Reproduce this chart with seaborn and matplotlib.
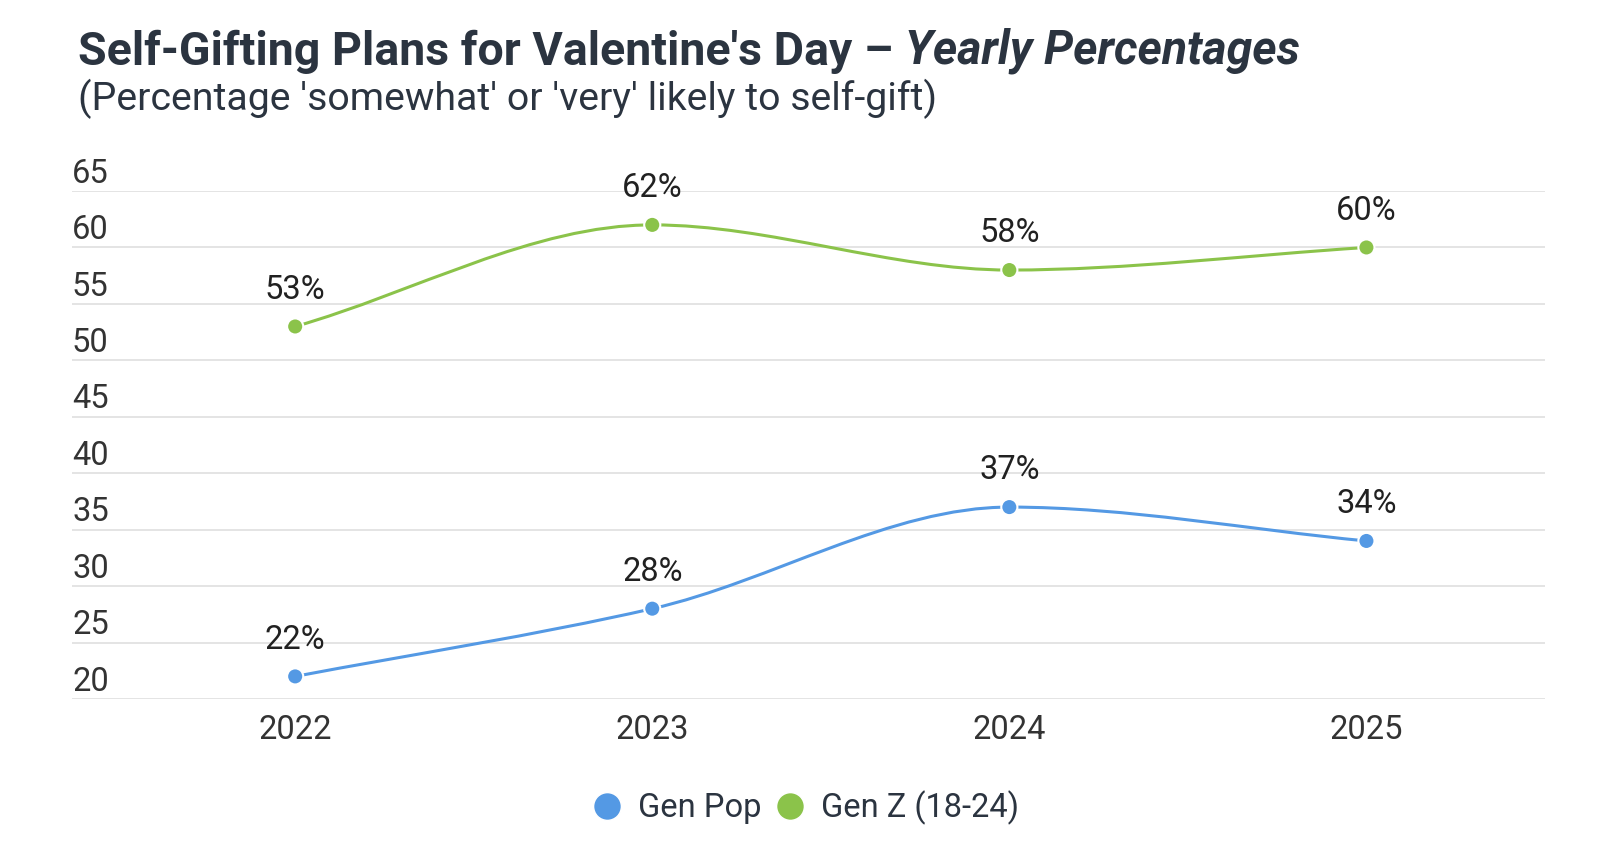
import numpy as np
import pandas as pd
import matplotlib.pyplot as plt
import seaborn as sns
from matplotlib.path import Path
from matplotlib.patches import PathPatch
from matplotlib.lines import Line2D
from matplotlib.transforms import ScaledTranslation

# Dados
years = ["2022", "2023", "2024", "2025"]
gen_pop = [22, 28, 37, 34]
gen_z = [53, 62, 58, 60]
series_names = ["Gen Pop", "Gen Z (18-24)"]
colors = ["#5499e4", "#8bc34a"]
y_ticks = [20, 25, 30, 35, 40, 45, 50, 55, 60, 65]

df = pd.DataFrame({
    "Year": years * 2,
    "Value": gen_pop + gen_z,
    "Series": [series_names[0]] * 4 + [series_names[1]] * 4,
})

sns.set_theme(style="white")
plt.rcParams["font.family"] = ["Roboto", "DejaVu Sans"]

fig = plt.figure(figsize=(16, 8.49), dpi=100)
ax = fig.add_axes([0.045, 0.1767, 0.9206, 0.5983])


def smooth_path(vals):
    # curva monotona (cubic hermite -> bezier) pelos pontos
    y = np.asarray(vals, dtype=float)
    d = np.diff(y)
    m = np.zeros_like(y)
    m[0], m[-1] = d[0], d[-1]
    for i in range(1, len(y) - 1):
        if d[i - 1] * d[i] > 0:
            m[i] = 2 / (1 / d[i - 1] + 1 / d[i])
    verts = [(0, y[0])]
    codes = [Path.MOVETO]
    for i in range(len(y) - 1):
        verts += [(i + 1 / 3, y[i] + m[i] / 3), (i + 2 / 3, y[i + 1] - m[i + 1] / 3), (i + 1, y[i + 1])]
        codes += [Path.CURVE4] * 3
    return Path(verts, codes)


for vals, c in zip([gen_pop, gen_z], colors):
    ax.add_patch(PathPatch(smooth_path(vals), facecolor="none", edgecolor=c, lw=2.2, zorder=2))

sns.scatterplot(data=df, x="Year", y="Value", hue="Series", palette=colors, s=135,
                edgecolor="white", linewidth=1.5, zorder=3, legend=False, ax=ax)

# Rótulos de dados
for i, (a, b) in enumerate(zip(gen_pop, gen_z)):
    for v in (a, b):
        ax.annotate(f"{v}%", (i, v), xytext=(0, 15), textcoords="offset points",
                    ha="center", va="bottom", fontsize=23.5, color="#212121")

ax.set_xlim(-0.625, 3.5)
ax.set_ylim(20, 65)
ax.set_yticks(y_ticks)
ax.grid(axis="y", color="#dcdcdc", lw=1.1)
ax.set_axisbelow(True)
for s in ax.spines.values():
    s.set_visible(False)
ax.set_xlabel("")
ax.set_ylabel("")
ax.tick_params(axis="both", length=0, labelsize=23.5, colors="#333333")
ax.tick_params(axis="x", pad=11)
ax.tick_params(axis="y", pad=0)
off = ScaledTranslation(0, 1 / 72, fig.dpi_scale_trans)
for lab in ax.get_yticklabels():
    lab.set_ha("left")
    lab.set_va("bottom")
    lab.set_transform(lab.get_transform() + off)

# Título
t1 = fig.text(0.049, 0.9234, "Self-Gifting Plans for Valentine's Day – ", fontsize=33.5,
              fontweight="bold", color="#2b3440", va="baseline")
ax.annotate("Yearly Percentages", xy=(1, 0), xycoords=t1, fontsize=33.5, fontweight="bold",
            fontstyle="italic", color="#2b3440", va="bottom", ha="left",
            annotation_clip=False)
fig.text(0.049, 0.8704, "(Percentage 'somewhat' or 'very' likely to self-gift)", fontsize=28.3,
         color="#2b3440", va="baseline")

# Legenda
handles = [Line2D([], [], marker="o", ls="", markersize=20, color=c, markeredgecolor="white")
           for c in colors]
leg = fig.legend(handles, series_names, loc="center", bbox_to_anchor=(0.5, 0.049), ncol=2,
                 frameon=False, fontsize=23.5, handletextpad=0.15, columnspacing=0.05,
                 handlelength=1.6)
for t in leg.get_texts():
    t.set_color("#2b3440")

fig.savefig("out.png", dpi=100)
